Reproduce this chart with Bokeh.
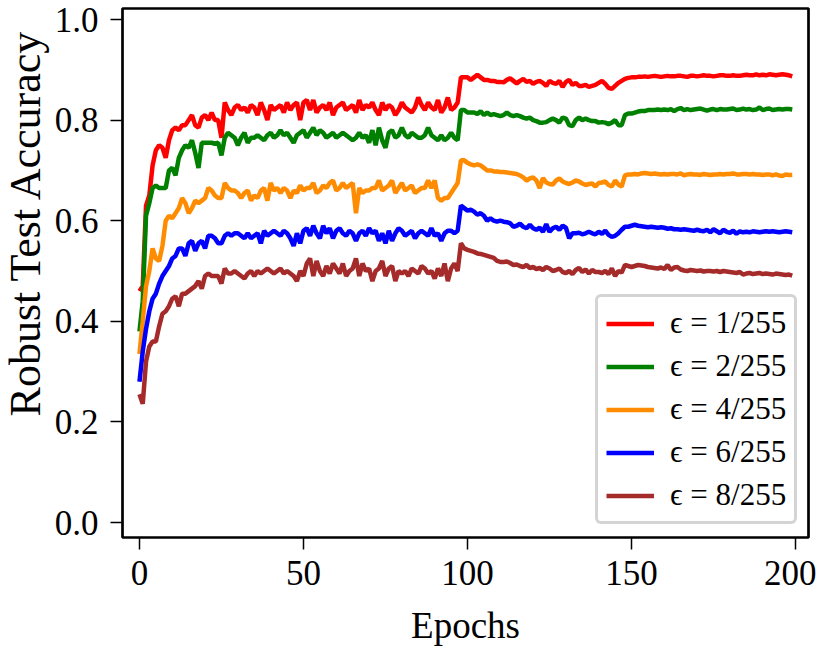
from bokeh.plotting import figure
from bokeh.models import Range1d, FixedTicker, Title
from bokeh.embed import file_html
from bokeh.resources import INLINE

epochs = list(range(200))

eps1 = [0.46, 0.47, 0.63, 0.65, 0.71, 0.74, 0.75, 0.745, 0.725, 0.76,
        0.78, 0.785, 0.78, 0.79, 0.79, 0.80, 0.81, 0.79, 0.785, 0.805,
        0.81, 0.80, 0.815, 0.80, 0.80, 0.765, 0.835, 0.82, 0.81, 0.825,
        0.83, 0.82, 0.825, 0.815, 0.83, 0.825, 0.81, 0.835, 0.82, 0.80,
        0.83, 0.82, 0.825, 0.83, 0.815, 0.835, 0.82, 0.83, 0.835, 0.80,
        0.835, 0.84, 0.82, 0.84, 0.815, 0.825, 0.83, 0.82, 0.835, 0.81,
        0.825, 0.83, 0.835, 0.82, 0.825, 0.83, 0.815, 0.84, 0.82, 0.83,
        0.825, 0.835, 0.82, 0.81, 0.835, 0.82, 0.83, 0.825, 0.81, 0.82,
        0.835, 0.825, 0.82, 0.815, 0.825, 0.845, 0.83, 0.82, 0.835, 0.825,
        0.82, 0.84, 0.815, 0.825, 0.845, 0.82, 0.825, 0.835, 0.885, 0.885,
        0.885, 0.88, 0.885, 0.89, 0.885, 0.88, 0.88, 0.878, 0.878, 0.876,
        0.876, 0.875, 0.88, 0.883, 0.878, 0.873, 0.878, 0.882, 0.876, 0.878,
        0.872, 0.876, 0.878, 0.874, 0.868, 0.878, 0.874, 0.872, 0.878, 0.866,
        0.876, 0.880, 0.870, 0.874, 0.868, 0.868, 0.870, 0.866, 0.868, 0.870,
        0.874, 0.878, 0.872, 0.864, 0.862, 0.868, 0.874, 0.878, 0.882, 0.884,
        0.885, 0.885, 0.886, 0.886, 0.887, 0.886, 0.887, 0.888, 0.887, 0.886,
        0.887, 0.888, 0.887, 0.887, 0.888, 0.888, 0.887, 0.886, 0.888, 0.888,
        0.887, 0.888, 0.889, 0.888, 0.888, 0.887, 0.888, 0.889, 0.889, 0.888,
        0.888, 0.889, 0.888, 0.888, 0.889, 0.890, 0.889, 0.889, 0.891, 0.889,
        0.890, 0.889, 0.891, 0.890, 0.889, 0.890, 0.891, 0.890, 0.889, 0.887]

eps2 = [0.38, 0.44, 0.61, 0.635, 0.665, 0.67, 0.665, 0.665, 0.665, 0.70,
        0.705, 0.69, 0.725, 0.74, 0.75, 0.745, 0.76, 0.735, 0.705, 0.755,
        0.755, 0.755, 0.755, 0.753, 0.755, 0.73, 0.765, 0.775, 0.77, 0.765,
        0.75, 0.765, 0.775, 0.755, 0.765, 0.765, 0.77, 0.765, 0.76, 0.77,
        0.775, 0.765, 0.77, 0.78, 0.77, 0.775, 0.765, 0.755, 0.77, 0.775,
        0.78, 0.765, 0.775, 0.785, 0.77, 0.78, 0.775, 0.765, 0.77, 0.775,
        0.765, 0.77, 0.775, 0.77, 0.765, 0.76, 0.765, 0.775, 0.765, 0.77,
        0.755, 0.78, 0.75, 0.785, 0.76, 0.745, 0.775, 0.78, 0.765, 0.77,
        0.785, 0.77, 0.765, 0.775, 0.77, 0.765, 0.765, 0.77, 0.785, 0.77,
        0.765, 0.76, 0.77, 0.76, 0.765, 0.775, 0.765, 0.76, 0.82, 0.82,
        0.815, 0.815, 0.815, 0.812, 0.818, 0.81, 0.815, 0.81, 0.812, 0.81,
        0.808, 0.81, 0.815, 0.81, 0.808, 0.81, 0.808, 0.805, 0.803, 0.805,
        0.80, 0.798, 0.795, 0.795, 0.796, 0.80, 0.803, 0.80, 0.795, 0.805,
        0.803, 0.79, 0.788, 0.80, 0.805, 0.80, 0.803, 0.80, 0.798, 0.798,
        0.795, 0.796, 0.795, 0.792, 0.795, 0.80, 0.79, 0.79, 0.81, 0.813,
        0.813, 0.815, 0.817, 0.818, 0.818, 0.82, 0.82, 0.82, 0.821, 0.82,
        0.821, 0.82, 0.822, 0.818, 0.822, 0.824, 0.82, 0.822, 0.82, 0.821,
        0.822, 0.823, 0.821, 0.819, 0.821, 0.822, 0.82, 0.822, 0.821, 0.821,
        0.822, 0.823, 0.82, 0.821, 0.823, 0.821, 0.822, 0.82, 0.821, 0.825,
        0.82, 0.822, 0.823, 0.82, 0.821, 0.822, 0.821, 0.822, 0.822, 0.821]

eps4 = [0.335, 0.40, 0.47, 0.50, 0.545, 0.525, 0.52, 0.55, 0.60, 0.61,
        0.605, 0.615, 0.625, 0.645, 0.635, 0.615, 0.625, 0.64, 0.635, 0.64,
        0.645, 0.665, 0.66, 0.65, 0.645, 0.645, 0.675, 0.665, 0.66, 0.66,
        0.655, 0.645, 0.655, 0.66, 0.64, 0.65, 0.645, 0.66, 0.665, 0.64,
        0.675, 0.66, 0.665, 0.655, 0.665, 0.66, 0.645, 0.66, 0.655, 0.67,
        0.66, 0.665, 0.665, 0.675, 0.655, 0.66, 0.67, 0.665, 0.675, 0.68,
        0.66, 0.665, 0.675, 0.665, 0.67, 0.675, 0.615, 0.665, 0.655, 0.66,
        0.66, 0.665, 0.665, 0.68, 0.66, 0.665, 0.67, 0.68, 0.655, 0.665,
        0.675, 0.66, 0.665, 0.67, 0.655, 0.66, 0.665, 0.665, 0.68, 0.665,
        0.68, 0.645, 0.64, 0.645, 0.645, 0.655, 0.665, 0.675, 0.72, 0.72,
        0.715, 0.712, 0.71, 0.712, 0.71, 0.705, 0.70, 0.70, 0.698, 0.698,
        0.697, 0.697, 0.696, 0.695, 0.694, 0.693, 0.69, 0.686, 0.68, 0.684,
        0.686, 0.68, 0.665, 0.685, 0.676, 0.673, 0.672, 0.68, 0.684, 0.678,
        0.675, 0.673, 0.676, 0.68, 0.678, 0.674, 0.671, 0.673, 0.674, 0.668,
        0.675, 0.676, 0.678, 0.671, 0.668, 0.68, 0.672, 0.668, 0.69, 0.692,
        0.692, 0.693, 0.692, 0.694, 0.695, 0.694, 0.693, 0.694, 0.693, 0.692,
        0.693, 0.692, 0.693, 0.693, 0.692, 0.694, 0.69, 0.692, 0.693, 0.692,
        0.692, 0.691, 0.693, 0.692, 0.691, 0.692, 0.692, 0.693, 0.692, 0.693,
        0.693, 0.694, 0.692, 0.692, 0.693, 0.693, 0.692, 0.693, 0.692, 0.692,
        0.691, 0.692, 0.692, 0.690, 0.692, 0.690, 0.689, 0.692, 0.691, 0.691]

eps6 = [0.28, 0.34, 0.385, 0.42, 0.445, 0.455, 0.475, 0.49, 0.50, 0.51,
        0.525, 0.53, 0.545, 0.545, 0.53, 0.555, 0.56, 0.54, 0.555, 0.56,
        0.545, 0.57, 0.57, 0.565, 0.555, 0.555, 0.57, 0.575, 0.57, 0.575,
        0.575, 0.57, 0.565, 0.575, 0.565, 0.57, 0.575, 0.555, 0.58, 0.57,
        0.575, 0.58, 0.575, 0.57, 0.58, 0.575, 0.565, 0.55, 0.575, 0.555,
        0.58, 0.585, 0.57, 0.59, 0.575, 0.565, 0.59, 0.575, 0.585, 0.565,
        0.58, 0.585, 0.575, 0.57, 0.58, 0.575, 0.56, 0.575, 0.58, 0.57,
        0.585, 0.575, 0.58, 0.56, 0.575, 0.555, 0.58, 0.56, 0.575, 0.585,
        0.58, 0.57, 0.575, 0.58, 0.565, 0.575, 0.58, 0.575, 0.57, 0.585,
        0.57, 0.575, 0.56, 0.575, 0.58, 0.58, 0.575, 0.58, 0.63, 0.625,
        0.62, 0.622, 0.618, 0.612, 0.615, 0.61, 0.60, 0.605, 0.60, 0.598,
        0.60, 0.598, 0.597, 0.595, 0.588, 0.59, 0.594, 0.588, 0.585, 0.592,
        0.585, 0.582, 0.586, 0.578, 0.593, 0.578, 0.585, 0.588, 0.582, 0.59,
        0.586, 0.565, 0.575, 0.575, 0.576, 0.573, 0.575, 0.578, 0.575, 0.573,
        0.578, 0.574, 0.58, 0.572, 0.568, 0.570, 0.575, 0.582, 0.588, 0.588,
        0.59, 0.592, 0.59, 0.589, 0.588, 0.587, 0.588, 0.587, 0.586, 0.587,
        0.586, 0.584, 0.585, 0.583, 0.583, 0.582, 0.583, 0.582, 0.581, 0.580,
        0.582, 0.580, 0.579, 0.582, 0.577, 0.583, 0.579, 0.575, 0.582, 0.578,
        0.576, 0.58, 0.574, 0.579, 0.577, 0.578, 0.577, 0.579, 0.578, 0.577,
        0.578, 0.579, 0.578, 0.579, 0.578, 0.577, 0.578, 0.579, 0.578, 0.577]

eps8 = [0.255, 0.236, 0.32, 0.35, 0.36, 0.36, 0.39, 0.415, 0.42, 0.43,
        0.445, 0.45, 0.43, 0.455, 0.455, 0.46, 0.465, 0.47, 0.48, 0.465,
        0.49, 0.495, 0.49, 0.49, 0.49, 0.475, 0.505, 0.495, 0.495, 0.50,
        0.495, 0.49, 0.485, 0.495, 0.50, 0.49, 0.50, 0.495, 0.50, 0.505,
        0.50, 0.495, 0.50, 0.505, 0.495, 0.50, 0.495, 0.49, 0.48, 0.50,
        0.49, 0.515, 0.525, 0.49, 0.52, 0.50, 0.49, 0.51, 0.495, 0.515,
        0.505, 0.495, 0.515, 0.49, 0.50, 0.505, 0.525, 0.49, 0.515, 0.50,
        0.505, 0.48, 0.50, 0.505, 0.52, 0.49, 0.505, 0.51, 0.48, 0.50,
        0.495, 0.50, 0.49, 0.505, 0.50, 0.495, 0.51, 0.505, 0.495, 0.50,
        0.485, 0.505, 0.49, 0.515, 0.48, 0.505, 0.515, 0.50, 0.555, 0.545,
        0.542, 0.54, 0.538, 0.535, 0.534, 0.532, 0.53, 0.528, 0.526, 0.52,
        0.518, 0.518, 0.519, 0.516, 0.512, 0.513, 0.51, 0.508, 0.512, 0.506,
        0.508, 0.504, 0.506, 0.502, 0.508, 0.505, 0.50, 0.502, 0.505, 0.498,
        0.496, 0.50, 0.494, 0.502, 0.506, 0.498, 0.503, 0.495, 0.502, 0.498,
        0.498, 0.496, 0.50, 0.494, 0.505, 0.49, 0.50, 0.497, 0.512, 0.510,
        0.508, 0.510, 0.512, 0.511, 0.510, 0.508, 0.507, 0.506, 0.505, 0.507,
        0.504, 0.512, 0.502, 0.507, 0.508, 0.503, 0.501, 0.500, 0.502, 0.501,
        0.500, 0.501, 0.499, 0.500, 0.500, 0.499, 0.500, 0.498, 0.500, 0.499,
        0.498, 0.497, 0.496, 0.498, 0.493, 0.495, 0.496, 0.494, 0.495, 0.496,
        0.494, 0.495, 0.494, 0.493, 0.495, 0.494, 0.493, 0.492, 0.493, 0.491]

series_labels = ["ϵ = 1/255", "ϵ = 2/255", "ϵ = 4/255", "ϵ = 6/255", "ϵ = 8/255"]
series_values = [eps1, eps2, eps4, eps6, eps8]
series_colors = ["#ff0000", "#008000", "#ff8c00", "#0000ff", "#a52a2a"]

x_ticks = [0, 50, 100, 150, 200]
y_ticks = [0.0, 0.2, 0.4, 0.6, 0.8, 1.0]
x_title = "Epochs"
y_title = "Robust Test Accuracy"

FONT = "Liberation Serif"

p = figure(width=816, height=648, output_backend="svg", toolbar_location=None,
           x_range=Range1d(-5.17, 203.95), y_range=Range1d(-0.0298, 1.0219),
           min_border_left=120, min_border_right=8, min_border_top=8,
           min_border_bottom=111)

p.background_fill_color = "white"
p.border_fill_color = "white"
p.outline_line_color = "black"
p.outline_line_width = 2.7
p.grid.visible = False

for lab, vals, col in zip(series_labels, series_values, series_colors):
    p.line(epochs, vals, line_color=col, line_width=4.5, legend_label=lab)

for ax in (p.xaxis[0], p.yaxis[0]):
    ax.axis_line_color = None
    ax.major_tick_in = 0
    ax.major_tick_out = 12
    ax.major_tick_line_color = "black"
    ax.major_tick_line_width = 1.5
    ax.minor_tick_line_color = None
    ax.major_label_text_font = FONT
    ax.major_label_text_font_size = "35px"
    ax.major_label_text_color = "black"
    ax.axis_label_text_font = FONT
    ax.axis_label_text_font_style = "normal"
    ax.axis_label_text_color = "black"

p.xaxis.axis_label = x_title
p.xaxis.axis_label_text_font_size = "37px"
p.xaxis.axis_label_standoff = 17
p.xaxis.ticker = FixedTicker(ticks=x_ticks)
p.yaxis.ticker = FixedTicker(ticks=y_ticks)
p.yaxis.major_label_overrides = {t: f"{t:.1f}" for t in y_ticks}
p.xaxis.major_label_standoff = 11
p.yaxis.major_label_standoff = 12

ytitle = Title(text=y_title, align="right", vertical_align="top", offset=20,
               standoff=0, text_font=FONT, text_font_size="44px",
               text_font_style="normal", text_color="black")
p.add_layout(ytitle, "left")

leg = p.legend[0]
leg.location = (473, 13)
leg.label_text_font = FONT
leg.label_text_font_size = "31px"
leg.label_text_color = "black"
leg.glyph_width = 48
leg.glyph_height = 33
leg.label_height = 33
leg.label_standoff = 16
leg.spacing = 7
leg.padding = 8
leg.margin = 0
leg.border_line_color = "#aaaaaa"
leg.border_line_width = 3
leg.background_fill_color = "white"
leg.background_fill_alpha = 1.0
try:
    leg.border_radius = 6
except Exception:
    pass

open("out.html", "w").write(file_html(p, INLINE))
